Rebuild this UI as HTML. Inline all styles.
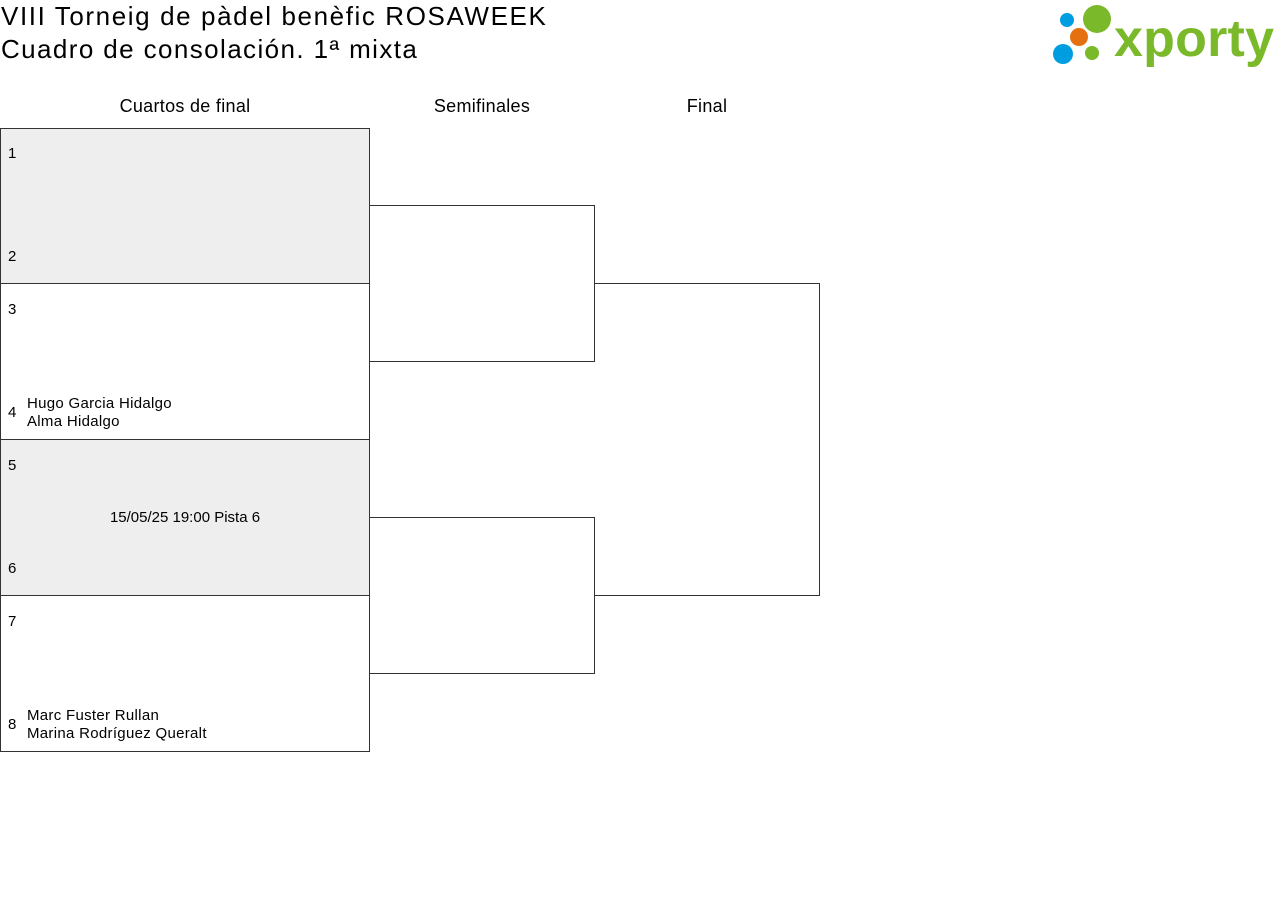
<!DOCTYPE html>
<html><head><meta charset="utf-8"><style>
body{margin:0;width:1280px;height:916px;background:#fff;font-family:"Liberation Sans",sans-serif;color:#000;position:relative;overflow:hidden}
.a{position:absolute}
.b{position:absolute;border:1px solid #333;box-sizing:border-box}
.t{font-size:26px;left:1px;letter-spacing:1.6px}
.h{font-size:18px;top:96px;text-align:center;letter-spacing:0.3px}
.n{position:absolute;font-size:15px;left:7px}
.p{position:absolute;font-size:15px;left:26px;line-height:18px;letter-spacing:0.3px}
</style></head><body>
<div class="a t" style="top:1px">VIII Torneig de pàdel benèfic ROSAWEEK</div>
<div class="a t" style="top:34px;letter-spacing:1.4px">Cuadro de consolación. 1ª mixta</div>
<svg class="a" style="left:1040px;top:0" width="240" height="75">
<circle cx="27" cy="20" r="7" fill="#009ee0"/><circle cx="57" cy="19" r="14" fill="#7ab929"/>
<circle cx="39" cy="37" r="9" fill="#e5700f"/><circle cx="23" cy="54" r="10" fill="#009ee0"/>
<circle cx="52" cy="53" r="7" fill="#7ab929"/>
<text x="74" y="56" font-family="Liberation Sans" font-weight="bold" font-size="52" fill="#7ab929" textLength="160">xporty</text>
</svg>
<div class="a h" style="left:0;width:370px">Cuartos de final</div>
<div class="a h" style="left:369px;width:226px">Semifinales</div>
<div class="a h" style="left:594px;width:226px">Final</div>
<div class="b" style="left:0;top:128px;width:370px;height:156px;background:#eee"><span class="n" style="top:16px">1</span><span class="n" style="top:119px">2</span></div>
<div class="b" style="left:0;top:283px;width:370px;height:157px"><span class="n" style="top:17px">3</span><span class="n" style="top:120px">4</span><span class="p" style="top:111px">Hugo Garcia Hidalgo<br>Alma Hidalgo</span></div>
<div class="b" style="left:0;top:439px;width:370px;height:157px;background:#eee"><span class="n" style="top:17px">5</span><span class="n" style="top:120px">6</span><span class="a" style="left:0;width:368px;text-align:center;top:69px;font-size:15px">15/05/25 19:00 Pista 6</span></div>
<div class="b" style="left:0;top:595px;width:370px;height:157px"><span class="n" style="top:17px">7</span><span class="n" style="top:120px">8</span><span class="p" style="top:111px">Marc Fuster Rullan<br>Marina Rodríguez Queralt</span></div>
<div class="b" style="left:369px;top:205px;width:226px;height:157px"></div>
<div class="b" style="left:369px;top:517px;width:226px;height:157px"></div>
<div class="b" style="left:594px;top:283px;width:226px;height:313px;border-left:none"></div>
</body></html>
